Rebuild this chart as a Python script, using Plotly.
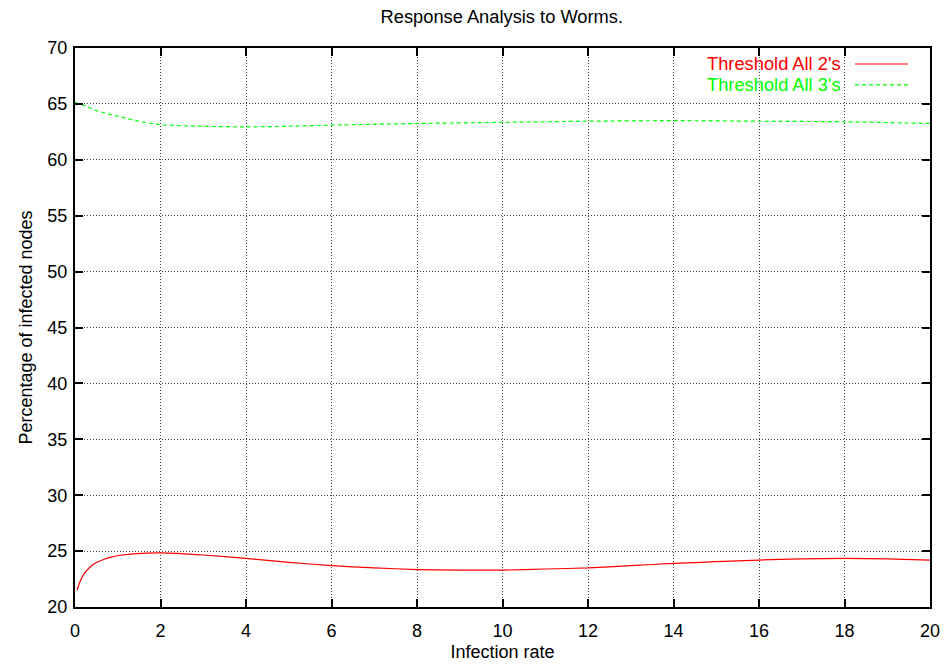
import plotly.graph_objects as go

# Data
x_red = [0.05, 0.1, 0.2, 0.36, 0.5, 0.67, 0.85, 1.06, 1.45, 2, 3, 4, 5, 6, 7, 8, 9, 10, 11, 12, 13, 14, 15, 16,
         17, 18, 19, 20]
y_red = [21.5, 22.1, 22.9, 23.6, 23.98, 24.25, 24.46, 24.63, 24.78, 24.84, 24.65, 24.35, 24.0, 23.7, 23.5, 23.35,
         23.3, 23.3, 23.4, 23.5, 23.7, 23.9, 24.05, 24.2, 24.3, 24.35, 24.3, 24.2]
x_green = [0, 0.25, 0.5, 1, 1.5, 2, 3, 4, 5, 6, 8, 10, 12, 14, 16, 18, 20]
y_green = [65.15, 64.8, 64.4, 63.9, 63.45, 63.15, 63.0, 62.95, 63.0, 63.1, 63.25, 63.35, 63.45, 63.5, 63.45,
           63.4, 63.25]
names = ["Threshold All 2's", "Threshold All 3's"]
colors = ["#ff0000", "#00ff00"]
x_ticks = list(range(0, 21, 2))
y_ticks = list(range(20, 71, 5))

FONT = "Liberation Sans, Arial, Helvetica, sans-serif"
FS = 18

fig = go.Figure()
fig.add_trace(go.Scatter(x=x_red, y=y_red, mode="lines", name=names[0],
                         line=dict(color=colors[0], width=1.2, shape="spline", smoothing=0.6)))
fig.add_trace(go.Scatter(x=x_green, y=y_green, mode="lines", name=names[1],
                         line=dict(color=colors[1], width=1.2, shape="spline", smoothing=0.8, dash="4px,3px")))

axis_common = dict(
    showline=True, linecolor="black", linewidth=2, mirror="ticks",
    ticks="inside", ticklen=8, tickwidth=1.5, tickcolor="black",
    showgrid=True, gridcolor="rgba(0,0,0,0.75)", gridwidth=1, griddash="1px,2px",
    zeroline=False, tickfont=dict(family=FONT, size=FS, color="black"), automargin=False,
)

fig.update_xaxes(range=[0, 20], tickvals=x_ticks, ticklabelstandoff=6,
                 title=dict(text="Infection rate", font=dict(family=FONT, size=FS, color="black"), standoff=6),
                 **axis_common)
fig.update_yaxes(range=[20, 70], tickvals=y_ticks, ticklabelstandoff=2,
                 title=dict(text="Percentage of infected nodes", font=dict(family=FONT, size=FS, color="black"),
                            standoff=10),
                 **axis_common)

# gnuplot-style legend: text on the left, sample line on the right
leg_y = [0.9714, 0.9339]
annotations = []
shapes = []
for i in range(2):
    annotations.append(dict(xref="paper", yref="paper", x=0.8983, y=leg_y[i], xanchor="right", yanchor="middle",
                            text=names[i], showarrow=False, font=dict(family=FONT, size=18.3, color=colors[i])))
    shapes.append(dict(type="line", xref="paper", yref="paper", x0=0.9123, x1=0.9743, y0=leg_y[i], y1=leg_y[i],
                       line=dict(color=colors[i], width=1.2, dash="solid" if i == 0 else "4px,3px")))

fig.update_layout(
    width=945, height=668,
    margin=dict(l=74.5, r=15, t=47.5, b=60.5),
    paper_bgcolor="white", plot_bgcolor="white",
    showlegend=False,
    title=dict(text="Response Analysis to Worms.", x=0.531, xanchor="center", y=0.975, yanchor="middle",
               font=dict(family=FONT, size=18.3, color="black"), automargin=False),
    annotations=annotations, shapes=shapes,
)

fig.write_html("out.html")
